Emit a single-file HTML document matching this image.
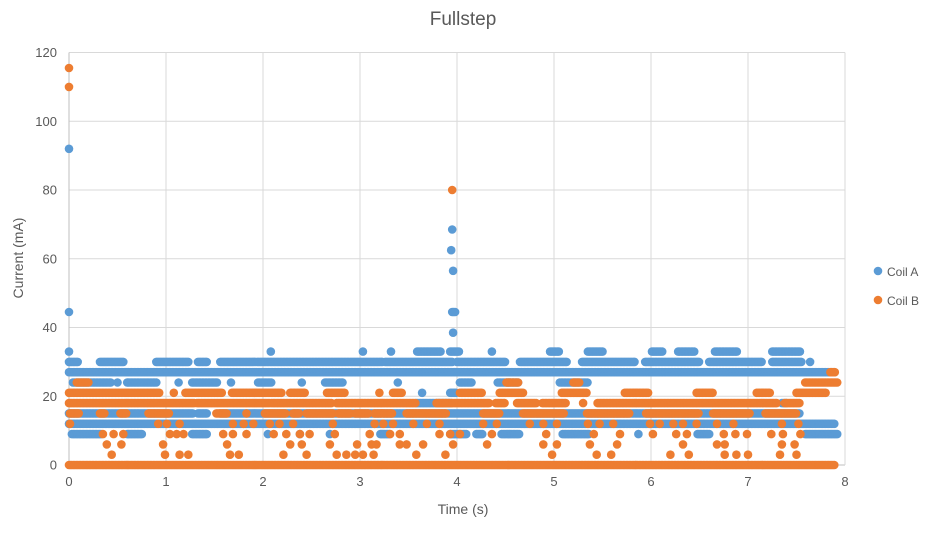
<!DOCTYPE html>
<html><head><meta charset="utf-8"><style>
body{margin:0;background:#fff;font-family:"Liberation Sans",sans-serif}
svg text{font-family:"Liberation Sans",sans-serif;fill:#595959}
</style></head><body>
<svg id="chart" width="930" height="529">
<text x="463" y="25" font-size="19" text-anchor="middle">Fullstep</text>
<g id="grid"></g><g id="marks"></g><g id="ticks"></g>
<text x="463" y="514" font-size="14" text-anchor="middle">Time (s)</text>
<text transform="translate(23,258) rotate(-90)" font-size="14" text-anchor="middle">Current (mA)</text>
<g>
<g><circle cx="878" cy="271" r="4.3" fill="#5b9bd5"/><text x="887" y="276" font-size="12">Coil A</text></g>
<g><circle cx="878" cy="300" r="4.3" fill="#ed7d31"/><text x="887" y="305" font-size="12">Coil B</text></g>
</g>
</svg>
<script>
const xTicks=[0,1,2,3,4,5,6,7,8];
const yTicks=[0,20,40,60,80,100,120];
// runs: [tStart, tEnd, level mA]
const coilARuns=[[0,7.9,27],[0,7.9,12],[0,1.28,15],[1.33,1.43,15],[1.56,7.54,15],
[0,0.1,30],[0.32,0.56,30],[0.9,1.23,30],[1.33,1.43,30],[1.56,1.92,30],[1.94,3.23,30],[3.26,3.96,30],[4.0,4.5,30],[4.65,5.13,30],[5.29,5.84,30],[5.94,6.5,30],[6.6,7.15,30],[7.25,7.56,30],[7.64,7.64,30],
[0,0,33],[2.08,2.08,33],[3.03,3.03,33],[3.32,3.32,33],[3.59,3.83,33],[3.93,4.03,33],[4.36,4.36,33],[4.96,5.06,33],[5.35,5.5,33],[6.01,6.12,33],[6.28,6.45,33],[6.66,6.89,33],[7.25,7.54,33],
[0.04,0.44,24],[0.5,0.5,24],[0.6,0.9,24],[1.13,1.13,24],[1.27,1.53,24],[1.67,1.67,24],[1.95,2.09,24],[2.4,2.4,24],[2.64,2.83,24],[3.39,3.39,24],[4.03,4.15,24],[4.42,4.63,24],[5.06,5.35,24],
[0.03,0.34,9],[0.6,0.76,9],[1.27,1.43,9],[2.05,2.05,9],[2.38,2.38,9],[2.69,2.69,9],[3.21,3.3,9],[3.93,4.1,9],[4.2,4.27,9],[4.46,4.65,9],[5.09,5.37,9],[5.87,5.87,9],[6.48,6.61,9],[7.59,7.92,9],
[3.58,3.95,18],[7.35,7.4,18],[3.64,3.64,21],[3.93,4.0,21],
[3.95,3.95,68.5],[3.94,3.94,62.5],[3.96,3.96,56.5],[3.95,3.98,44.5],[3.96,3.96,38.5],[0,0,92],[0,0,44.5]];
const coilBRuns=[[0,7.9,0],
[0,1.3,18],[1.32,2.07,18],[2.09,2.71,18],[2.76,3.57,18],[3.79,4.34,18],[4.4,4.5,18],[4.62,4.82,18],[4.88,5.13,18],[5.3,5.3,18],[5.45,7.3,18],[7.38,7.54,18],
[0,0.94,21],[1.08,1.08,21],[1.2,1.58,21],[1.68,2.2,21],[2.28,2.43,21],[2.66,2.85,21],[3.2,3.2,21],[3.34,3.44,21],[4.03,4.26,21],[4.44,4.68,21],[5.08,5.34,21],[5.73,5.97,21],[6.47,6.64,21],[7.09,7.23,21],[7.5,7.81,21],
[0.08,0.2,24],[4.51,4.63,24],[5.2,5.27,24],[7.59,7.92,24],[7.85,7.9,27],
[0.01,0.1,15],[0.32,0.37,15],[0.53,0.59,15],[0.82,1.04,15],[1.52,1.63,15],[1.83,1.83,15],[2.02,2.24,15],[2.31,2.38,15],[2.45,2.72,15],[2.78,2.9,15],[2.95,3.09,15],[3.15,3.34,15],[3.48,3.89,15],[4.27,4.44,15],[4.68,5.1,15],[5.34,5.78,15],[5.95,6.49,15],[6.64,7.02,15],[7.18,7.5,15],
[0,0,115.5],[0,0,110],[3.95,3.95,80]];
const coilBDots12=[0.01,0.92,1.01,1.14,1.69,1.8,1.9,2.07,2.17,2.31,2.72,3.15,3.24,3.34,3.55,3.69,3.82,4.27,4.41,4.75,4.89,5.03,5.35,5.47,5.61,5.99,6.09,6.23,6.33,6.47,6.68,6.85,7.35,7.52];
const coilBDots9=[0.35,0.46,0.56,1.04,1.11,1.18,1.59,1.69,1.83,2.11,2.24,2.38,2.48,2.74,3.1,3.31,3.41,3.82,3.93,4.03,4.36,4.92,5.41,5.68,6.02,6.26,6.37,6.75,6.87,6.99,7.24,7.36,7.54];
const coilBDots6=[0.39,0.54,0.97,1.63,2.28,2.4,2.69,2.97,3.12,3.17,3.41,3.48,3.65,3.96,4.31,4.89,5.03,5.37,5.65,6.33,6.68,6.76,7.35,7.48];
const coilBDots3=[0.44,0.99,1.14,1.23,1.66,1.75,2.21,2.45,2.76,2.86,2.95,3.03,3.14,3.58,3.88,4.98,5.44,5.59,6.2,6.39,6.76,6.88,7.0,7.33,7.5];

const NS='http://www.w3.org/2000/svg';
const X0=69,X1=845,Y0=465,Y1=52.5;
const xs=t=>X0+(t/8)*(X1-X0);
const ys=v=>Y0-(v/120)*(Y0-Y1);
const grid=document.getElementById('grid'),ticks=document.getElementById('ticks'),marks=document.getElementById('marks');
function mk(tag,attrs,parent){const e=document.createElementNS(NS,tag);for(const k in attrs)e.setAttribute(k,attrs[k]);parent.appendChild(e);return e;}
yTicks.forEach(v=>{
  const l=mk('line',{x1:X0,x2:X1,y1:ys(v),y2:ys(v),stroke:v===0?'#bfbfbf':'#d9d9d9','stroke-width':1},grid);
  
  
  const t=mk('text',{x:X0-12,y:ys(v)+4.5,'font-size':13,'text-anchor':'end'},ticks);t.textContent=v;
  
  
});
xTicks.forEach(v=>{
  const l=mk('line',{x1:xs(v),x2:xs(v),y1:Y1,y2:Y0,stroke:v===0?'#bfbfbf':'#d9d9d9','stroke-width':1},grid);
  
  
  const t=mk('text',{x:xs(v),y:Y0+21,'font-size':13,'text-anchor':'middle'},ticks);t.textContent=v;
  
  
});
function drawSeries(runs,dots,color,name){
  const g=mk('g',{fill:color},marks);
  
  
  runs.forEach(r=>{
    for(let t=r[0];t<=r[1]+1e-9;t+=0.015){mk('circle',{cx:xs(t).toFixed(1),cy:ys(r[2]).toFixed(1),r:4.3},g);}
  });
  dots.forEach(d=>d[1].forEach(t=>mk('circle',{cx:xs(t).toFixed(1),cy:ys(d[0]).toFixed(1),r:4.3},g)));
}
drawSeries(coilARuns,[],'#5b9bd5','series-coil-a');
drawSeries(coilBRuns,[[12,coilBDots12],[9,coilBDots9],[6,coilBDots6],[3,coilBDots3]],'#ed7d31','series-coil-b');
</script>
</body></html>
